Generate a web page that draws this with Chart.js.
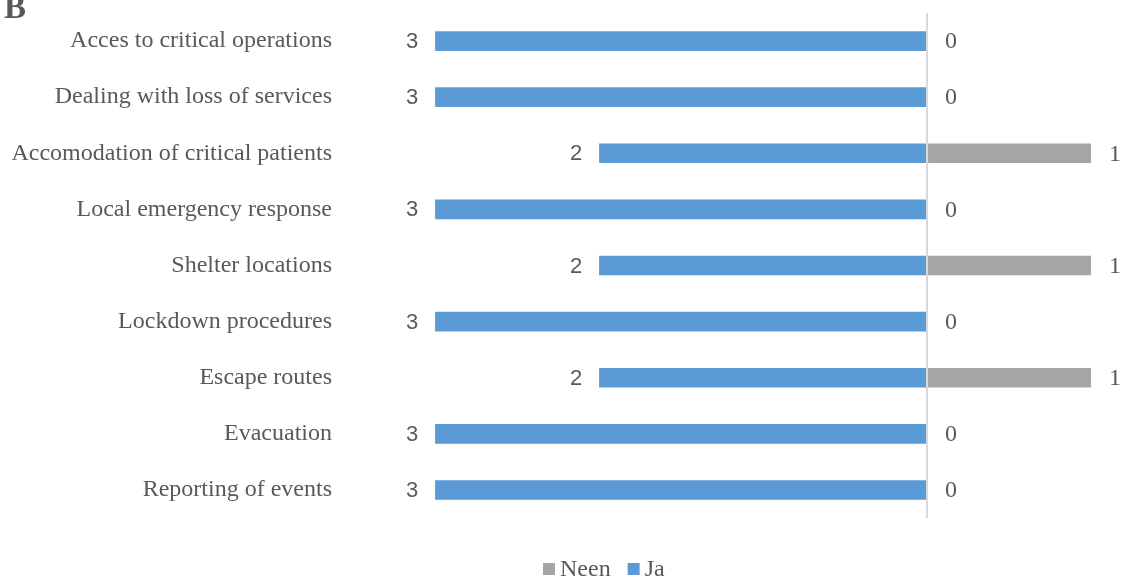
<!DOCTYPE html>
<html>
<head>
<meta charset="utf-8">
<script src="https://cdn.jsdelivr.net/npm/chart.js@4.4.0/dist/chart.umd.min.js"></script>
<style>
  html, body { margin: 0; padding: 0; background: #fff; }
  #wrap { position: relative; width: 1121px; height: 578px; }
  #panel { position: absolute; left: 4px; top: -11px; font: bold 33px "Liberation Serif", serif; color: #595959; }
</style>
</head>
<body>
<div id="wrap">
  <canvas id="chartCanvas" width="1121" height="578"></canvas>
  <div id="panel">B</div>
</div>
<script>
// Topics, top to bottom
const topics = [
  "Acces to critical operations",
  "Dealing with loss of services",
  "Accomodation of critical patients",
  "Local emergency response",
  "Shelter locations",
  "Lockdown procedures",
  "Escape routes",
  "Evacuation",
  "Reporting of events"
];
const jaCounts = [3, 3, 2, 3, 2, 3, 2, 3, 3];
const neenCounts = [0, 0, 1, 0, 1, 0, 1, 0, 0];

const textColor = "#595959";
const serif = '"Liberation Serif", "Times New Roman", serif';

// Write the count next to the end of each bar
const valueLabels = {
  id: "valueLabels",
  afterDatasetsDraw(chart) {
    const ctx = chart.ctx;
    ctx.save();
    ctx.fillStyle = textColor;
    ctx.textAlign = "center";
    ctx.textBaseline = "middle";
    chart.data.datasets.forEach((ds, i) => {
      const meta = chart.getDatasetMeta(i);
      meta.data.forEach((bar, j) => {
        const v = Math.abs(ds.data[j]);
        if (ds.label === "Ja") {
          ctx.font = '22px "Liberation Sans", sans-serif';
          ctx.fillText(String(v), bar.x - 23, bar.y + 1);
        } else {
          ctx.font = "24px " + serif;
          ctx.fillText(String(v), bar.x + 24, bar.y + 1);
        }
      });
    });
    ctx.restore();
  }
};

// Simple legend under the plot: Neen, Ja
const bottomLegend = {
  id: "bottomLegend",
  afterDraw(chart) {
    const ctx = chart.ctx;
    const y = 569;
    let x = 543;
    ctx.save();
    ctx.font = "24px " + serif;
    ctx.textBaseline = "middle";
    ctx.textAlign = "left";
    chart.data.datasets.forEach(ds => {
      ctx.fillStyle = ds.backgroundColor;
      ctx.fillRect(x, y - 6, 12, 12);
      ctx.fillStyle = textColor;
      ctx.fillText(ds.label, x + 17, y + 1);
      x += 17 + ctx.measureText(ds.label).width + 17;
    });
    ctx.restore();
  }
};

const ctx = document.getElementById("chartCanvas").getContext("2d");
new Chart(ctx, {
  type: "bar",
  data: {
    labels: topics,
    datasets: [
      {
        label: "Neen",
        data: neenCounts,
        backgroundColor: "#a5a5a5",
        barPercentage: 0.35,
        categoryPercentage: 1,
        grouped: false
      },
      {
        label: "Ja",
        data: jaCounts.map(v => -v),
        backgroundColor: "#5b9bd5",
        barPercentage: 0.35,
        categoryPercentage: 1,
        grouped: false
      }
    ]
  },
  options: {
    indexAxis: "y",
    responsive: false,
    animation: false,
    layout: { padding: { top: 13, right: 30, left: 0, bottom: 60 } },
    plugins: {
      legend: { display: false },
      tooltip: { enabled: false }
    },
    scales: {
      x: {
        min: -3.58,
        max: 1,
        border: { display: false },
        ticks: { display: false },
        grid: {
          drawTicks: false,
          lineWidth: 2,
          color: c => (c.tick && c.tick.value === 0 ? "#d9d9d9" : "rgba(0,0,0,0)")
        }
      },
      y: {
        border: { display: false },
        grid: { display: false, drawTicks: false },
        ticks: {
          color: textColor,
          padding: 8,
          font: { family: serif, size: 24 }
        },
        afterFit(scale) {
          scale.width = 340;
          scale.paddingTop = 0;
          scale.paddingBottom = 0;
        }
      }
    }
  },
  plugins: [valueLabels, bottomLegend]
});
</script>
</body>
</html>
